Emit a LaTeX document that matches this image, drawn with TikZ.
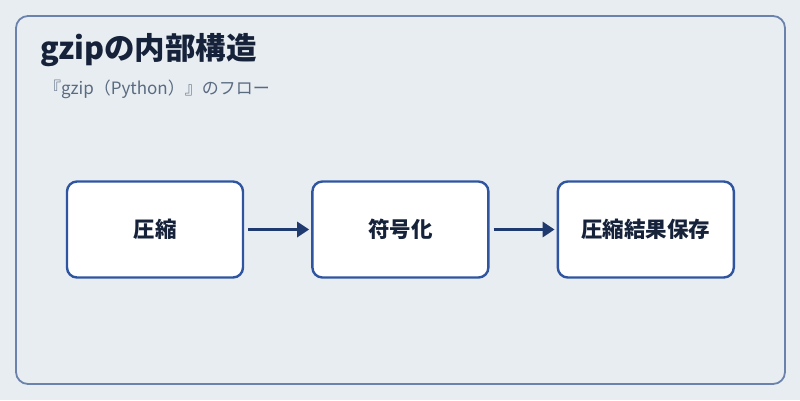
\documentclass[tikz,border=0pt]{standalone}
\usepackage{fontspec}
\usepackage{xcolor}
\usepackage{tikz}
\usetikzlibrary{arrows.meta,positioning}
\setmainfont{Noto Sans CJK JP}
\definecolor{PageBg}{HTML}{E8EDF2}
\definecolor{FrameLine}{HTML}{6A82AC}
\definecolor{BoxLine}{HTML}{2F55A0}
\definecolor{ArrowBlue}{HTML}{1F3A6E}
\definecolor{TitleInk}{HTML}{15223A}
\definecolor{SubInk}{HTML}{5A6B80}
\begin{document}
\begin{tikzpicture}[x=1pt,y=-1pt,node distance=67pt,
  stepbox/.style={draw=BoxLine,line width=2.4pt,rounded corners=10pt,fill=white,
      minimum width=176pt,minimum height=96pt,inner sep=0pt,
      font=\fontsize{21.5}{25}\selectfont\bfseries,text=TitleInk},
  flow/.style={draw=ArrowBlue,line width=3pt,-{Triangle[length=12pt,width=15pt]}}]
\fill[PageBg] (0,0) rectangle (800,400);
\useasboundingbox (0,0) rectangle (800,400);
\draw[FrameLine,line width=1.8pt,rounded corners=12pt] (16,16) rectangle (785,384);
\node[anchor=base west,inner sep=0pt,text=TitleInk,
      font=\fontsize{30.5}{35}\selectfont\bfseries] (title) at (40,59) {gzipの内部構造};
\node[anchor=base west,inner sep=0pt,text=SubInk,
      font=\fontsize{17}{20}\selectfont] (sub) at (44,94) {『gzip（Python）』のフロー};
\node[stepbox] (a) at (155,229.5) {圧縮};
\node[stepbox,right=of a] (b) {符号化};
\node[stepbox,right=of b] (c) {圧縮結果保存};
\draw[flow] ([xshift=4pt]a.east) -- ([xshift=-2pt]b.west);
\draw[flow] ([xshift=4pt]b.east) -- ([xshift=-2pt]c.west);
\end{tikzpicture}
\end{document}
